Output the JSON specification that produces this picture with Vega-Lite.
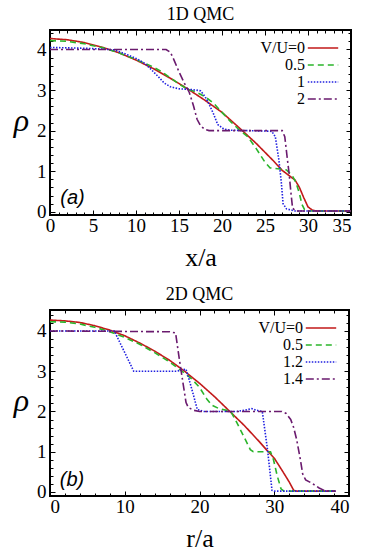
{
  "$schema": "https://vega.github.io/schema/vega-lite/v6.json",
  "padding": {"left": 12, "top": 4, "right": 4, "bottom": 0},
  "background": "white",
  "spacing": 13,
  "config": {
    "font": "Liberation Serif",
    "view": {"stroke": "black", "strokeWidth": 2},
    "axis": {"labelFont": "Liberation Serif", "labelFontSize": 19, "labelColor": "black", "titleFont": "Liberation Serif", "titleColor": "black", "titleFontWeight": "normal", "tickColor": "black", "tickWidth": 1, "grid": false, "domain": false},
    "title": {"font": "Liberation Serif", "fontSize": 18, "fontWeight": "normal", "color": "black", "offset": 6},
    "legend": {"orient": "top-right", "offset": 9, "labelFont": "Liberation Serif", "labelFontSize": 16, "labelColor": "black", "labelAlign": "right", "labelOffset": -27, "symbolType": "M-1.9,0H1.9", "symbolSize": 256, "symbolStrokeWidth": 1.5, "rowPadding": 0, "labelLimit": 0, "padding": 0}
  },
  "datasets": {
    "top": [
      {"s":"V/U=0","x":0,"rho":4.27},{"s":"V/U=0","x":2,"rho":4.24},{"s":"V/U=0","x":4,"rho":4.17},{"s":"V/U=0","x":6,"rho":4.06},{"s":"V/U=0","x":8,"rho":3.92},{"s":"V/U=0","x":10,"rho":3.74},{"s":"V/U=0","x":12,"rho":3.53},{"s":"V/U=0","x":14,"rho":3.29},{"s":"V/U=0","x":16,"rho":3.03},{"s":"V/U=0","x":18,"rho":2.75},{"s":"V/U=0","x":20,"rho":2.45},{"s":"V/U=0","x":22,"rho":2.07},{"s":"V/U=0","x":24,"rho":1.68},{"s":"V/U=0","x":26,"rho":1.25},{"s":"V/U=0","x":27,"rho":1.02},{"s":"V/U=0","x":28,"rho":0.86},{"s":"V/U=0","x":28.5,"rho":0.78},{"s":"V/U=0","x":29,"rho":0.6},{"s":"V/U=0","x":29.5,"rho":0.35},{"s":"V/U=0","x":30,"rho":0.12},{"s":"V/U=0","x":30.5,"rho":0.04},{"s":"V/U=0","x":31,"rho":0.02},{"s":"V/U=0","x":35,"rho":0.02},
      {"s":"0.5","x":0,"rho":4.22},{"s":"0.5","x":2,"rho":4.2},{"s":"0.5","x":4,"rho":4.14},{"s":"0.5","x":6,"rho":4.05},{"s":"0.5","x":8,"rho":3.92},{"s":"0.5","x":10,"rho":3.75},{"s":"0.5","x":12,"rho":3.57},{"s":"0.5","x":13,"rho":3.45},{"s":"0.5","x":14,"rho":3.3},{"s":"0.5","x":15,"rho":3.15},{"s":"0.5","x":16,"rho":3.02},{"s":"0.5","x":17,"rho":2.95},{"s":"0.5","x":18,"rho":2.84},{"s":"0.5","x":19,"rho":2.68},{"s":"0.5","x":20,"rho":2.45},{"s":"0.5","x":21,"rho":2.22},{"s":"0.5","x":22,"rho":2.02},{"s":"0.5","x":23,"rho":1.85},{"s":"0.5","x":24,"rho":1.55},{"s":"0.5","x":25,"rho":1.22},{"s":"0.5","x":25.6,"rho":1.08},{"s":"0.5","x":26.5,"rho":1.06},{"s":"0.5","x":27.5,"rho":1.03},{"s":"0.5","x":28.2,"rho":0.88},{"s":"0.5","x":28.6,"rho":0.72},{"s":"0.5","x":29,"rho":0.45},{"s":"0.5","x":29.3,"rho":0.18},{"s":"0.5","x":29.6,"rho":0.05},{"s":"0.5","x":30,"rho":0.02},{"s":"0.5","x":35,"rho":0.02},
      {"s":"1","x":0,"rho":4.05},{"s":"1","x":2,"rho":4.04},{"s":"1","x":4,"rho":4.03},{"s":"1","x":5,"rho":4.02},{"s":"1","x":6,"rho":4.01},{"s":"1","x":7.5,"rho":3.99},{"s":"1","x":9,"rho":3.87},{"s":"1","x":10,"rho":3.78},{"s":"1","x":11,"rho":3.66},{"s":"1","x":11.8,"rho":3.5},{"s":"1","x":12.5,"rho":3.35},{"s":"1","x":13.3,"rho":3.17},{"s":"1","x":14,"rho":3.08},{"s":"1","x":15,"rho":3.03},{"s":"1","x":16,"rho":3.02},{"s":"1","x":17,"rho":3.0},{"s":"1","x":17.5,"rho":2.98},{"s":"1","x":18,"rho":2.85},{"s":"1","x":18.5,"rho":2.65},{"s":"1","x":19,"rho":2.42},{"s":"1","x":19.5,"rho":2.15},{"s":"1","x":20.2,"rho":2.04},{"s":"1","x":21,"rho":2.01},{"s":"1","x":23,"rho":2.0},{"s":"1","x":25,"rho":1.99},{"s":"1","x":25.8,"rho":1.98},{"s":"1","x":26.2,"rho":1.85},{"s":"1","x":26.6,"rho":1.3},{"s":"1","x":26.9,"rho":0.72},{"s":"1","x":27.1,"rho":0.2},{"s":"1","x":27.5,"rho":0.07},{"s":"1","x":28.5,"rho":0.02},{"s":"1","x":35,"rho":0.02},
      {"s":"2","x":0,"rho":4.0},{"s":"2","x":13.5,"rho":4.0},{"s":"2","x":14,"rho":3.93},{"s":"2","x":14.4,"rho":3.75},{"s":"2","x":15,"rho":3.45},{"s":"2","x":15.6,"rho":3.18},{"s":"2","x":16.2,"rho":2.94},{"s":"2","x":16.7,"rho":2.6},{"s":"2","x":17.1,"rho":2.28},{"s":"2","x":17.5,"rho":2.12},{"s":"2","x":18,"rho":2.03},{"s":"2","x":18.5,"rho":2.0},{"s":"2","x":27,"rho":2.0},{"s":"2","x":27.3,"rho":1.85},{"s":"2","x":27.6,"rho":1.3},{"s":"2","x":27.8,"rho":0.95},{"s":"2","x":28,"rho":0.5},{"s":"2","x":28.2,"rho":0.1},{"s":"2","x":28.5,"rho":0.02},{"s":"2","x":35,"rho":0.02}
    ],
    "bottom": [
      {"s":"V/U=0","x":0,"rho":4.27},{"s":"V/U=0","x":2,"rho":4.25},{"s":"V/U=0","x":4,"rho":4.21},{"s":"V/U=0","x":6,"rho":4.13},{"s":"V/U=0","x":8,"rho":4.02},{"s":"V/U=0","x":10,"rho":3.88},{"s":"V/U=0","x":12,"rho":3.7},{"s":"V/U=0","x":14,"rho":3.5},{"s":"V/U=0","x":16,"rho":3.27},{"s":"V/U=0","x":18,"rho":3.0},{"s":"V/U=0","x":20,"rho":2.7},{"s":"V/U=0","x":22,"rho":2.37},{"s":"V/U=0","x":24,"rho":2.01},{"s":"V/U=0","x":26,"rho":1.65},{"s":"V/U=0","x":28,"rho":1.25},{"s":"V/U=0","x":29,"rho":1.04},{"s":"V/U=0","x":30,"rho":0.84},{"s":"V/U=0","x":31,"rho":0.55},{"s":"V/U=0","x":32,"rho":0.25},{"s":"V/U=0","x":32.6,"rho":0.04},{"s":"V/U=0","x":33,"rho":0.02},{"s":"V/U=0","x":38.2,"rho":0.02},
      {"s":"0.5","x":0,"rho":4.23},{"s":"0.5","x":2,"rho":4.22},{"s":"0.5","x":4,"rho":4.17},{"s":"0.5","x":6,"rho":4.09},{"s":"0.5","x":8,"rho":3.98},{"s":"0.5","x":10,"rho":3.84},{"s":"0.5","x":12,"rho":3.67},{"s":"0.5","x":14,"rho":3.46},{"s":"0.5","x":16,"rho":3.23},{"s":"0.5","x":17.5,"rho":3.02},{"s":"0.5","x":18,"rho":2.95},{"s":"0.5","x":19,"rho":2.8},{"s":"0.5","x":20,"rho":2.6},{"s":"0.5","x":21,"rho":2.3},{"s":"0.5","x":21.7,"rho":2.15},{"s":"0.5","x":22.5,"rho":2.08},{"s":"0.5","x":24.2,"rho":2.0},{"s":"0.5","x":25,"rho":1.72},{"s":"0.5","x":26,"rho":1.35},{"s":"0.5","x":26.8,"rho":1.05},{"s":"0.5","x":27.2,"rho":1.0},{"s":"0.5","x":29.5,"rho":1.0},{"s":"0.5","x":29.9,"rho":0.8},{"s":"0.5","x":30.4,"rho":0.4},{"s":"0.5","x":30.9,"rho":0.08},{"s":"0.5","x":31.3,"rho":0.02},{"s":"0.5","x":38.2,"rho":0.02},
      {"s":"1.2","x":0,"rho":4.0},{"s":"1.2","x":8.6,"rho":4.0},{"s":"1.2","x":11.2,"rho":3.0},{"s":"1.2","x":17,"rho":3.0},{"s":"1.2","x":17.6,"rho":3.03},{"s":"1.2","x":18.2,"rho":3.05},{"s":"1.2","x":18.6,"rho":2.8},{"s":"1.2","x":19.2,"rho":2.4},{"s":"1.2","x":19.7,"rho":2.05},{"s":"1.2","x":20.5,"rho":2.0},{"s":"1.2","x":25,"rho":2.0},{"s":"1.2","x":26,"rho":2.03},{"s":"1.2","x":27,"rho":2.07},{"s":"1.2","x":27.6,"rho":2.03},{"s":"1.2","x":28.4,"rho":2.0},{"s":"1.2","x":29.1,"rho":1.05},{"s":"1.2","x":29.7,"rho":0.04},{"s":"1.2","x":30,"rho":0.02},{"s":"1.2","x":38.2,"rho":0.02},
      {"s":"1.4","x":0,"rho":4.0},{"s":"1.4","x":16,"rho":3.98},{"s":"1.4","x":16.8,"rho":3.95},{"s":"1.4","x":17.3,"rho":3.3},{"s":"1.4","x":17.8,"rho":2.7},{"s":"1.4","x":18.2,"rho":2.22},{"s":"1.4","x":18.5,"rho":2.1},{"s":"1.4","x":19.2,"rho":2.03},{"s":"1.4","x":20,"rho":2.0},{"s":"1.4","x":31,"rho":2.0},{"s":"1.4","x":31.6,"rho":1.95},{"s":"1.4","x":32.2,"rho":1.8},{"s":"1.4","x":32.6,"rho":1.6},{"s":"1.4","x":33,"rho":1.3},{"s":"1.4","x":33.5,"rho":0.8},{"s":"1.4","x":33.8,"rho":0.45},{"s":"1.4","x":34.2,"rho":0.3},{"s":"1.4","x":35,"rho":0.22},{"s":"1.4","x":36,"rho":0.1},{"s":"1.4","x":36.9,"rho":0.02},{"s":"1.4","x":38.2,"rho":0.02}
    ]
  },
  "vconcat": [
    {
      "width": 301, "height": 185,
      "title": {"text": "1D QMC", "font": "Liberation Serif"},
      "data": {"name": "top"},
      "layer": [
        {
          "mark": {"type": "line", "opacity": 0},
          "encoding": {
            "x": {"field": "x", "type": "quantitative", "scale": {"domain": [0, 35], "nice": false, "zero": false},
              "axis": {"orient": "bottom", "labels": false, "title": null, "ticks": true, "values": [0,1,2,3,4,5,6,7,8,9,10,11,12,13,14,15,16,17,18,19,20,21,22,23,24,25,26,27,28,29,30,31,32,33,34,35], "tickSize": {"condition": {"test": "datum.value % 5 === 0", "value": -5}, "value": -3}}},
            "y": {"field": "rho", "type": "quantitative", "scale": {"domain": [-0.08, 4.48], "nice": false, "zero": false},
              "axis": {"orient": "left", "labels": false, "title": null, "ticks": true, "values": [0,0.2,0.4,0.6,0.8,1,1.2,1.4,1.6,1.8,2,2.2,2.4,2.6,2.8,3,3.2,3.4,3.6,3.8,4,4.2,4.4], "tickSize": {"condition": {"test": "abs(datum.value - round(datum.value)) < 0.01", "value": -5}, "value": -3}}},
            "detail": {"field": "s"}
          }
        },
        {
          "mark": {"type": "line", "opacity": 0},
          "encoding": {
            "x": {"field": "x", "type": "quantitative",
              "axis": {"orient": "top", "labels": false, "title": null, "ticks": true, "values": [0,1,2,3,4,5,6,7,8,9,10,11,12,13,14,15,16,17,18,19,20,21,22,23,24,25,26,27,28,29,30,31,32,33,34,35], "tickSize": {"condition": {"test": "datum.value % 5 === 0", "value": -5}, "value": -3}}},
            "y": {"field": "rho", "type": "quantitative",
              "axis": {"orient": "right", "labels": false, "title": null, "ticks": true, "values": [0,0.2,0.4,0.6,0.8,1,1.2,1.4,1.6,1.8,2,2.2,2.4,2.6,2.8,3,3.2,3.4,3.6,3.8,4,4.2,4.4], "tickSize": {"condition": {"test": "abs(datum.value - round(datum.value)) < 0.01", "value": -5}, "value": -3}}},
            "detail": {"field": "s"}
          }
        },
        {
          "mark": {"type": "line", "strokeWidth": 1.6},
          "encoding": {
            "x": {"field": "x", "type": "quantitative",
              "axis": {"orient": "bottom", "ticks": false, "values": [0,5,10,15,20,25,30,35], "labelFont": "Liberation Serif", "labelFontSize": 19, "labelPadding": 1, "labelAlign": {"condition": {"test": "datum.value === 35", "value": "right"}, "value": "center"}, "title": "x/a", "titleFont": "Liberation Serif", "titleFontSize": 26, "titlePadding": 9}},
            "y": {"field": "rho", "type": "quantitative",
              "axis": {"orient": "left", "ticks": false, "values": [0,1,2,3,4], "labelFont": "Liberation Serif", "labelFontSize": 19, "labelPadding": 4, "title": "ρ", "titleFont": "Liberation Serif", "titleFontSize": 32, "titleFontStyle": "italic", "titleAngle": 0, "titleAlign": "center", "titleBaseline": "middle", "titleX": -29, "titleY": 90}},
            "color": {"field": "s", "type": "nominal", "title": null,
              "scale": {"domain": ["V/U=0", "0.5", "1", "2"], "range": ["#c21a1a", "#2bb52b", "#2020e0", "#6a1a6e"]},
              "legend": {"labelFont": "Liberation Serif", "labelFontSize": 16}},
            "strokeDash": {"field": "s", "type": "nominal", "title": null,
              "scale": {"domain": ["V/U=0", "0.5", "1", "2"], "range": [[1, 0], [6, 4], [1.5, 1.5], [8, 3, 2, 3]]},
              "legend": {"labelFont": "Liberation Serif", "labelFontSize": 16}}
          }
        },
        {
          "data": {"values": [{"x": 1.2, "rho": 0.34, "t": "(a)"}]},
          "mark": {"type": "text", "align": "left", "baseline": "middle", "fontSize": 20, "font": "Liberation Sans", "fontStyle": "italic", "color": "black"},
          "encoding": {
            "x": {"field": "x", "type": "quantitative", "axis": null},
            "y": {"field": "rho", "type": "quantitative", "axis": null},
            "text": {"field": "t"}
          }
        }
      ],
      "resolve": {"axis": {"x": "independent", "y": "independent"}}
    },
    {
      "width": 299, "height": 186,
      "title": {"text": "2D QMC", "font": "Liberation Serif"},
      "data": {"name": "bottom"},
      "layer": [
        {
          "mark": {"type": "line", "opacity": 0},
          "encoding": {
            "x": {"field": "x", "type": "quantitative", "scale": {"domain": [0, 40], "nice": false, "zero": false},
              "axis": {"orient": "bottom", "labels": false, "title": null, "ticks": true, "values": [0,2,4,6,8,10,12,14,16,18,20,22,24,26,28,30,32,34,36,38,40], "tickSize": {"condition": {"test": "datum.value % 10 === 0", "value": -5}, "value": -3}}},
            "y": {"field": "rho", "type": "quantitative", "scale": {"domain": [-0.1, 4.52], "nice": false, "zero": false},
              "axis": {"orient": "left", "labels": false, "title": null, "ticks": true, "values": [0,0.2,0.4,0.6,0.8,1,1.2,1.4,1.6,1.8,2,2.2,2.4,2.6,2.8,3,3.2,3.4,3.6,3.8,4,4.2,4.4], "tickSize": {"condition": {"test": "abs(datum.value - round(datum.value)) < 0.01", "value": -5}, "value": -3}}},
            "detail": {"field": "s"}
          }
        },
        {
          "mark": {"type": "line", "opacity": 0},
          "encoding": {
            "x": {"field": "x", "type": "quantitative",
              "axis": {"orient": "top", "labels": false, "title": null, "ticks": true, "values": [0,2,4,6,8,10,12,14,16,18,20,22,24,26,28,30,32,34,36,38,40], "tickSize": {"condition": {"test": "datum.value % 10 === 0", "value": -5}, "value": -3}}},
            "y": {"field": "rho", "type": "quantitative",
              "axis": {"orient": "right", "labels": false, "title": null, "ticks": true, "values": [0,0.2,0.4,0.6,0.8,1,1.2,1.4,1.6,1.8,2,2.2,2.4,2.6,2.8,3,3.2,3.4,3.6,3.8,4,4.2,4.4], "tickSize": {"condition": {"test": "abs(datum.value - round(datum.value)) < 0.01", "value": -5}, "value": -3}}},
            "detail": {"field": "s"}
          }
        },
        {
          "mark": {"type": "line", "strokeWidth": 1.6},
          "encoding": {
            "x": {"field": "x", "type": "quantitative",
              "axis": {"orient": "bottom", "ticks": false, "values": [0,10,20,30,40], "labelFont": "Liberation Serif", "labelFontSize": 19, "labelPadding": 1, "title": "r/a", "titleFont": "Liberation Serif", "titleFontSize": 26, "titlePadding": 9}},
            "y": {"field": "rho", "type": "quantitative",
              "axis": {"orient": "left", "ticks": false, "values": [0,1,2,3,4], "labelFont": "Liberation Serif", "labelFontSize": 19, "labelPadding": 4, "title": "ρ", "titleFont": "Liberation Serif", "titleFontSize": 32, "titleFontStyle": "italic", "titleAngle": 0, "titleAlign": "center", "titleBaseline": "middle", "titleX": -29, "titleY": 90}},
            "color": {"field": "s", "type": "nominal", "title": null,
              "scale": {"domain": ["V/U=0", "0.5", "1.2", "1.4"], "range": ["#c21a1a", "#2bb52b", "#2020e0", "#6a1a6e"]},
              "legend": {"labelFont": "Liberation Serif", "labelFontSize": 16}},
            "strokeDash": {"field": "s", "type": "nominal", "title": null,
              "scale": {"domain": ["V/U=0", "0.5", "1.2", "1.4"], "range": [[1, 0], [6, 4], [1.5, 1.5], [8, 3, 2, 3]]},
              "legend": {"labelFont": "Liberation Serif", "labelFontSize": 16}}
          }
        },
        {
          "data": {"values": [{"x": 1.3, "rho": 0.3, "t": "(b)"}]},
          "mark": {"type": "text", "align": "left", "baseline": "middle", "fontSize": 20, "font": "Liberation Sans", "fontStyle": "italic", "color": "black"},
          "encoding": {
            "x": {"field": "x", "type": "quantitative", "axis": null},
            "y": {"field": "rho", "type": "quantitative", "axis": null},
            "text": {"field": "t"}
          }
        }
      ],
      "resolve": {"axis": {"x": "independent", "y": "independent"}}
    }
  ],
  "resolve": {"scale": {"color": "independent", "strokeDash": "independent"}, "legend": {"color": "independent", "strokeDash": "independent"}}
}
